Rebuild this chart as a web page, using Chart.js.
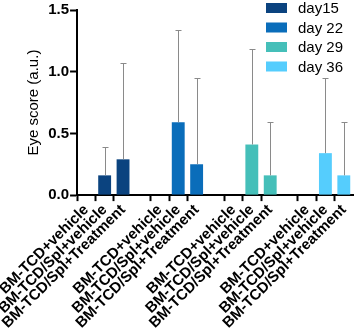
<!DOCTYPE html>
<html>
<head>
<meta charset="utf-8">
<script src="https://cdn.jsdelivr.net/npm/chart.js@4"></script>
<style>
  html, body { margin: 0; padding: 0; background: #fff; }
  #wrap { width: 357px; height: 332px; }
</style>
</head>
<body>
<div id="wrap"><canvas id="eyeChart"></canvas></div>
<script>
const groups = ['BM-TCD+vehicle', 'BM-TCD/Spl+vehicle', 'BM-TCD/Spl+Treatment'];
const days = ['day15', 'day 22', 'day 29', 'day 36'];
const colors = ['#0b437f', '#0a6dba', '#45bfb9', '#55cdfd'];

const day15Mean = [0, 0.16, 0.29];
const day22Mean = [0, 0.59, 0.25];
const day29Mean = [0, 0.41, 0.16];
const day36Mean = [0, 0.34, 0.16];

const day15Err = [0, 0.23, 0.78];
const day22Err = [0, 0.75, 0.70];
const day29Err = [0, 0.77, 0.43];
const day36Err = [0, 0.61, 0.43];

const yTicks = [0, 0.5, 1.0, 1.5];

const means = [day15Mean, day22Mean, day29Mean, day36Mean];
const errs = [day15Err, day22Err, day29Err, day36Err];

// labels with an empty slot between each day group
const labels = [];
days.forEach((d, i) => {
    if (i > 0) labels.push('');
    groups.forEach(g => labels.push(g));
});

const spread = (arr, i) => {
    const out = labels.map(() => null);
    arr.forEach((v, j) => { out[i * 4 + j] = v; });
    return out;
};

const datasets = days.map((d, i) => ({
    label: d,
    data: spread(means[i], i),
    errors: spread(errs[i], i),
    backgroundColor: colors[i],
    borderWidth: 0,
    barPercentage: 0.7,
    categoryPercentage: 1
}));

const errorBars = {
    id: 'errorBars',
    afterDatasetsDraw(chart) {
        const ctx = chart.ctx;
        const y = chart.scales.y;
        ctx.save();
        ctx.strokeStyle = '#8a8a8a';
        ctx.lineWidth = 1;
        chart.data.datasets.forEach((ds, i) => {
            const meta = chart.getDatasetMeta(i);
            ds.data.forEach((v, j) => {
                const e = ds.errors[j];
                if (v === null || !e) return;
                const bar = meta.data[j];
                const x = Math.round(bar.x) + 0.5;
                const top = Math.round(y.getPixelForValue(v + e)) + 0.5;
                ctx.beginPath();
                ctx.moveTo(x, bar.y);
                ctx.lineTo(x, top);
                ctx.moveTo(x - 3, top);
                ctx.lineTo(x + 3, top);
                ctx.stroke();
            });
        });
        ctx.restore();
    }
};

const cornerLegend = {
    id: 'cornerLegend',
    afterDraw(chart) {
        const ctx = chart.ctx;
        ctx.save();
        ctx.font = '15px "Liberation Sans", Arial, sans-serif';
        ctx.textBaseline = 'middle';
        chart.data.datasets.forEach((ds, i) => {
            const cy = 8 + i * 19.5;
            ctx.fillStyle = ds.backgroundColor;
            ctx.fillRect(266, cy - 5, 21, 10);
            ctx.fillStyle = '#000';
            ctx.fillText(ds.label, 298, cy + 1);
        });
        ctx.restore();
    }
};

new Chart(document.getElementById('eyeChart'), {
    type: 'bar',
    data: { labels: labels, datasets: datasets },
    plugins: [errorBars, cornerLegend],
    options: {
        responsive: true,
        maintainAspectRatio: false,
        animation: false,
        grouped: false,
        layout: { padding: { top: 5, right: 4, left: 12 } },
        plugins: {
            legend: { display: false },
            tooltip: { enabled: false }
        },
        scales: {
            x: {
                offset: true,
                border: { color: '#000', width: 2 },
                grid: {
                    display: true,
                    drawOnChartArea: false,
                    tickLength: 6,
                    tickWidth: 2,
                    tickColor: c => (labels[c.index] ? '#000' : 'rgba(0,0,0,0)')
                },
                ticks: {
                    autoSkip: false,
                    maxRotation: 45,
                    minRotation: 45,
                    padding: 0,
                    color: '#000',
                    font: { family: '"Liberation Sans", Arial, sans-serif', size: 15, weight: 'bold' }
                }
            },
            y: {
                min: 0,
                max: 1.5,
                afterBuildTicks: axis => { axis.ticks = yTicks.map(v => ({ value: v })); },
                border: { color: '#000', width: 2 },
                grid: {
                    display: true,
                    drawOnChartArea: false,
                    tickLength: 7,
                    tickWidth: 2,
                    tickColor: '#000'
                },
                ticks: {
                    padding: 1,
                    color: '#000',
                    callback: v => v.toFixed(1),
                    font: { family: '"Liberation Sans", Arial, sans-serif', size: 15, weight: 'bold' }
                },
                title: {
                    display: true,
                    text: 'Eye score (a.u.)',
                    color: '#000',
                    padding: 4,
                    font: { family: '"Liberation Sans", Arial, sans-serif', size: 15 }
                }
            }
        }
    }
});
</script>
</body>
</html>
